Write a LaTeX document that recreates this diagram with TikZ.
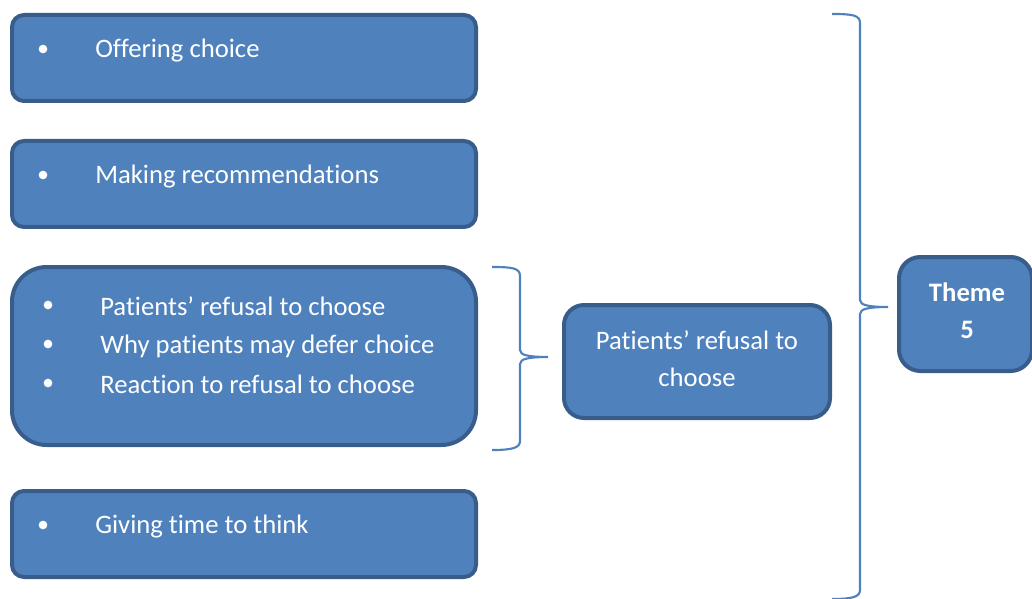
\documentclass[tikz,border=0pt]{standalone}
\usepackage{fontspec}
\setmainfont{Carlito}[Ligatures=NoCommon]
\usetikzlibrary{
  positioning,  % relative placement
  calc          % coordinate calculation
}
\definecolor{boxfill}{HTML}{4F81BD}
\definecolor{boxline}{HTML}{385D8A}
\tikzset{
  topic box/.style={
    rectangle,
    draw=boxline,
    fill=boxfill,
    line width=3pt,
    rounded corners=9pt
  },
  item text/.style={
    text=white,
    font=\fontsize{20}{24}\selectfont,
    inner sep=0pt,
    anchor=west
  },
  bullet dot/.style={
    circle,
    fill=white,
    inner sep=0pt,
    minimum size=6.5pt
  },
  brace line/.style={
    draw=boxfill,
    line width=1.6pt
  }
}

\begin{document}
\begin{tikzpicture}[x=0.75pt, y=-0.75pt]
    \useasboundingbox (0,0) rectangle (1032,599);
    \clip (0,0) rectangle (1032,599);

    % --- left column: subthemes ---
    % 1. offering choice
    \node[topic box, minimum width=348pt, minimum height=64.5pt] (offer) at (244,58) {};
    \node[bullet dot] (offerdot) at (43,49) {};
    \node[item text] (offertext) at (95,51) {Offering choice};

    % 2. making recommendations
    \node[topic box, minimum width=348pt, minimum height=64.5pt] (recommend) at (244,184) {};
    \node[bullet dot] (recdot) at (43,175) {};
    \node[item text] (rectext) at (95,177) {Making recommendations};

    % 3. refusal group
    \node[topic box, rounded corners=26pt, minimum width=348pt, minimum height=133.5pt] (refusal) at (244,356) {};
    \node[bullet dot] (refdotA) at (48,305) {};
    \node[item text] (reftextA) at (100,306) {Patients’ refusal to choose};
    \node[bullet dot] (refdotB) at (48,344) {};
    \node[item text] (reftextB) at (100,346) {Why patients may defer choice};
    \node[bullet dot] (refdotC) at (48,383) {};
    \node[item text] (reftextC) at (100,384) {Reaction to refusal to choose};

    % 4. giving time
    \node[topic box, minimum width=348pt, minimum height=64.5pt] (thinking) at (244,534) {};
    \node[bullet dot] (thinkdot) at (43,525) {};
    \node[item text] (thinktext) at (95,527) {Giving time to think};

    % --- small brace ---
    \draw[brace line] (492,267) .. controls (512,267) and (520,268) .. (520,276)
      -- (520,350) .. controls (520,355) and (528,357) .. (548,357)
      .. controls (528,357) and (520,359) .. (520,364)
      -- (520,441) .. controls (520,448) and (512,450) .. (492,450);

    % --- middle box ---
    \node[topic box, rounded corners=15pt, minimum width=199.5pt, minimum height=84.75pt] (middle) at (697,361.5) {};
    \node[text=white, align=center, font=\fontsize{20}{27.75}\selectfont] (middletext) at (697,358.5)
      {Patients’ refusal to\\choose};

    % --- big brace ---
    \draw[brace line] (832,14) .. controls (852,14) and (860,15) .. (860,23)
      -- (860,300) .. controls (860,305) and (868,307) .. (888,307)
      .. controls (868,307) and (860,309) .. (860,314)
      -- (860,590) .. controls (860,597) and (852,599) .. (832,599);

    % --- theme box ---
    \node[topic box, rounded corners=16pt, minimum width=99.75pt, minimum height=85.5pt] (theme) at (965.5,314) {};
    \node[text=white, align=center, font=\fontsize{20}{27.75}\selectfont\bfseries] (themetext) at (967,311)
      {Theme\\5};
\end{tikzpicture}
\end{document}
